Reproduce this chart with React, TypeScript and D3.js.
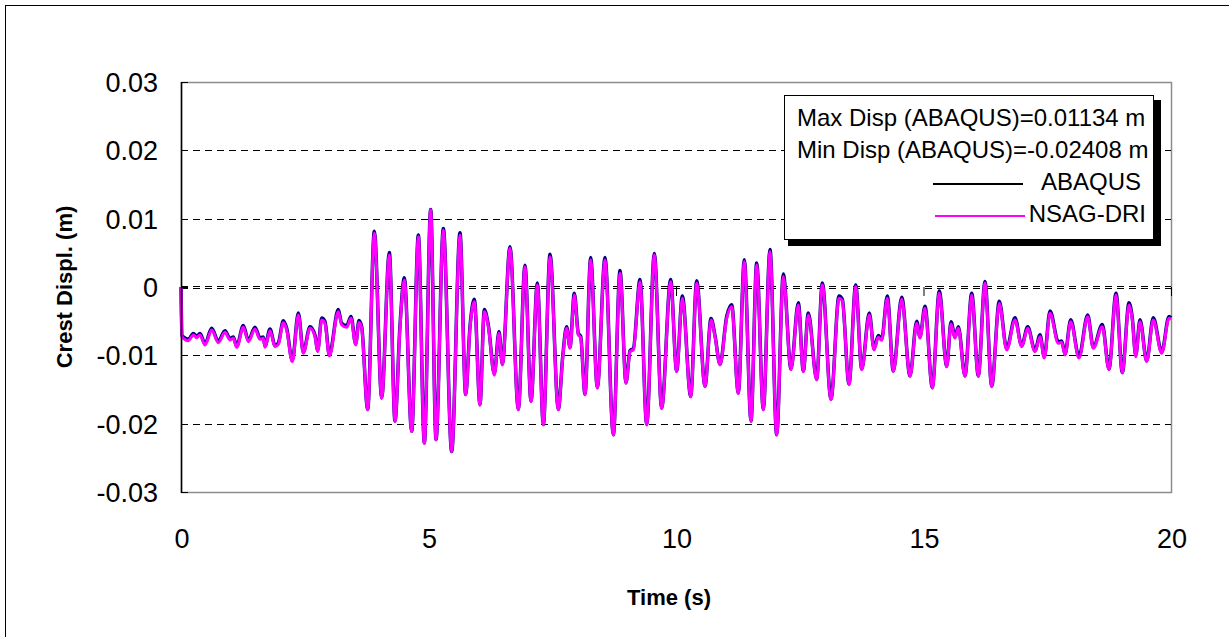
import React from "react";
import * as d3 from "d3";

// Time (s)
const times: number[] = [
  0.0, 0.02, 0.047, 0.148, 0.249, 0.316, 0.384, 0.485, 0.62, 0.754, 0.889, 0.99, 1.057, 1.125, 1.259, 1.36,
  1.495, 1.596, 1.663, 1.697, 1.798, 1.899, 1.966, 2.067, 2.135, 2.249, 2.37, 2.471, 2.606, 2.707, 2.761,
  2.842, 2.909, 2.997, 3.178, 3.246, 3.347, 3.434, 3.529, 3.596, 3.65, 3.771, 3.906, 4.054, 4.209, 4.323,
  4.424, 4.512, 4.66, 4.795, 4.916, 5.044, 5.152, 5.3, 5.468, 5.636, 5.751, 5.838, 5.926, 6.04, 6.128,
  6.209, 6.33, 6.424, 6.492, 6.646, 6.815, 6.949, 7.071, 7.199, 7.32, 7.455, 7.623, 7.711, 7.791, 7.859,
  7.946, 8.027, 8.074, 8.162, 8.276, 8.411, 8.566, 8.734, 8.869, 8.99, 9.071, 9.138, 9.273, 9.408, 9.562,
  9.71, 9.892, 10.013, 10.128, 10.297, 10.418, 10.586, 10.707, 10.788, 10.889, 11.024, 11.125, 11.259,
  11.38, 11.515, 11.63, 11.764, 11.899, 12.034, 12.168, 12.323, 12.471, 12.572, 12.673, 12.842, 12.956,
  13.131, 13.293, 13.36, 13.495, 13.63, 13.752, 13.905, 14.0, 14.087, 14.155, 14.269, 14.39, 14.56,
  14.727, 14.863, 14.929, 15.03, 15.178, 15.319, 15.469, 15.556, 15.636, 15.703, 15.838, 15.974, 16.107,
  16.242, 16.378, 16.531, 16.681, 16.848, 16.984, 17.105, 17.253, 17.354, 17.44, 17.556, 17.723, 17.792,
  17.859, 17.974, 18.141, 18.317, 18.43, 18.612, 18.747, 18.889, 19.016, 19.152, 19.219, 19.287, 19.374,
  19.509, 19.642, 19.812, 19.96, 20.0,
];

// NSAG-DRI crest displacement (m)
const nsagDri: number[] = [
  0.0, -0.0073, -0.00751, -0.00785, -0.00702, -0.00741, -0.00702, -0.00849, -0.00629, -0.00815, -0.00663,
  -0.00776, -0.0075, -0.00883, -0.0059, -0.008, -0.00615, -0.00766, -0.0075, -0.00883, -0.00639, -0.00873,
  -0.0084, -0.00522, -0.00629, -0.01093, -0.0041, -0.00971, -0.00605, -0.00727, -0.00946, -0.00483,
  -0.00532, -0.0101, -0.00361, -0.00556, -0.0059, -0.00459, -0.00849, -0.0052, -0.006, -0.018, 0.00786,
  -0.0163, 0.00468, -0.0197, -0.0059, 0.00102, -0.0212, 0.00737, -0.0229, 0.01127, -0.0224, 0.00834,
  -0.0241, 0.00761, -0.0158, -0.00605, -0.00215, -0.0173, -0.00361, -0.0058, -0.0129, -0.00678, -0.0114,
  0.00566, -0.018, 0.00298, -0.0168, 0.00029, -0.0202, 0.00444, -0.018, -0.0104, -0.00605, -0.00898,
  -0.00117, -0.00702, -0.0074, -0.0158, 0.00395, -0.0148, 0.00395, -0.0217, 0.002, -0.0141, -0.00946,
  -0.0092, 0.00078, -0.0202, 0.00468, -0.0178, 0.00078, -0.0124, -0.00166, -0.0161, 0.00054, -0.0146,
  -0.00483, -0.00727, -0.0114, -0.00459, -0.00288, -0.0156, 0.00371, -0.0197, 0.00322, -0.018, 0.00517,
  -0.0217, 0.00151, -0.0121, -0.00263, -0.0124, -0.0041, -0.0136, 0.00029, -0.0165, -0.00166, -0.002,
  -0.0143, 0.00005, -0.0121, -0.0041, -0.00922, -0.00737, -0.0078, -0.00166, -0.0124, -0.00181, -0.0131,
  -0.00532, -0.0075, -0.00312, -0.0148, -0.00093, -0.0117, -0.00541, -0.0075, -0.00605, -0.0131, -0.00117,
  -0.0131, 0.00054, -0.0146, -0.00239, -0.00922, -0.00483, -0.00873, -0.00605, -0.00946, -0.00727, -0.0104,
  -0.00385, -0.00824, -0.0081, -0.00995, -0.00507, -0.0104, -0.00434, -0.00898, -0.0058, -0.0121, -0.00117,
  -0.0126, -0.00263, -0.0048, -0.0102, -0.00507, -0.0109, -0.00483, -0.0097, -0.00459, -0.0047,
];

// ABAQUS crest displacement (m)
const abaqus: number[] = [
  0.0, -0.0071, -0.00728, -0.00765, -0.0068, -0.0072, -0.0068, -0.0083, -0.00605, -0.00795, -0.0064,
  -0.00755, -0.0073, -0.00865, -0.00565, -0.0078, -0.0059, -0.00745, -0.0073, -0.00865, -0.00615, -0.00855,
  -0.0082, -0.00495, -0.00605, -0.01075, -0.0038, -0.0095, -0.0058, -0.00705, -0.00925, -0.00455,
  -0.00505, -0.0099, -0.0033, -0.0053, -0.00565, -0.0043, -0.0083, -0.0049, -0.0058, -0.0179, 0.00815,
  -0.0162, 0.00505, -0.0196, -0.0056, 0.00135, -0.0211, 0.0076, -0.0228, 0.01134, -0.0223, 0.00855,
  -0.02408, 0.00795, -0.0157, -0.0058, -0.0018, -0.0172, -0.0033, -0.0056, -0.0127, -0.0065, -0.0113,
  0.0059, -0.0179, 0.0032, -0.0167, 0.0006, -0.0201, 0.0048, -0.0179, -0.0102, -0.0058, -0.0088,
  -0.0009, -0.0068, -0.0072, -0.0157, 0.0043, -0.0147, 0.0043, -0.0216, 0.0024, -0.014, -0.0093,
  -0.009, 0.0011, -0.0201, 0.0049, -0.0177, 0.0011, -0.0123, -0.0013, -0.016, 0.0009, -0.0145,
  -0.0046, -0.0071, -0.0113, -0.0043, -0.0026, -0.0155, 0.004, -0.0196, 0.0035, -0.0179, 0.0055,
  -0.0216, 0.0019, -0.012, -0.0023, -0.0123, -0.0038, -0.0135, 0.0006, -0.0164, -0.0013, -0.0018,
  -0.0142, 0.0003, -0.012, -0.0038, -0.009, -0.0071, -0.0076, -0.0013, -0.0123, -0.0015, -0.013,
  -0.005, -0.0073, -0.0028, -0.0147, -0.0006, -0.0116, -0.0051, -0.0073, -0.0058, -0.013, -0.0009,
  -0.013, 0.0008, -0.0145, -0.0021, -0.009, -0.0045, -0.0086, -0.0058, -0.0093, -0.007, -0.0102,
  -0.0035, -0.008, -0.0079, -0.0098, -0.0048, -0.0102, -0.0041, -0.0088, -0.0055, -0.012, -0.0009,
  -0.0125, -0.0023, -0.0046, -0.01, -0.0048, -0.0108, -0.0045, -0.0095, -0.0043, -0.0045,
];

const yTicks: number[] = [0.03, 0.02, 0.01, 0, -0.01, -0.02, -0.03];
const yTickLabels: string[] = ["0.03", "0.02", "0.01", "0", "-0.01", "-0.02", "-0.03"];
const xTicks: number[] = [0, 5, 10, 15, 20];
const legendStats: string[] = ["Max Disp (ABAQUS)=0.01134 m", "Min Disp (ABAQUS)=-0.02408 m"];
const seriesNames: string[] = ["ABAQUS", "NSAG-DRI"];

const W = 1229;
const H = 637;
const L = 181;
const R = 1171;
const T = 82;
const B = 492;
const FONT = "Arial, 'Liberation Sans', Helvetica, sans-serif";

export default function App() {
  const x = d3.scaleLinear().domain([0, 20]).range([L, R]);
  const y = d3.scaleLinear().domain([-0.03, 0.03]).range([B, T]);

  const line = d3
    .line<number>()
    .x((_, i) => x(times[i]))
    .y((d) => y(d))
    .curve(d3.curveMonotoneX);

  const gridVals = yTicks.filter((v) => v !== 0.03 && v !== -0.03 && v !== 0);
  const y0 = y(0);

  return (
    <svg
      width={W}
      height={H}
      style={{ position: "absolute", left: 0, top: 0, background: "#fff" }}
      fontFamily={FONT}
    >
      <rect x={0} y={0} width={W} height={H} fill="#fff" />
      {/* outer chart border */}
      <rect x={5.5} y={5.5} width={1400} height={800} fill="none" stroke="#000" strokeWidth={1} />

      {/* plot area border */}
      <rect x={L + 0.5} y={T + 0.5} width={R - L} height={B - T} fill="none" stroke="#8c8c8c" strokeWidth={1.5} />

      {/* gridlines */}
      {gridVals.map((v) => (
        <line
          key={"g" + v}
          x1={L}
          x2={R}
          y1={Math.round(y(v)) + 0.5}
          y2={Math.round(y(v)) + 0.5}
          stroke="#000"
          strokeWidth={1}
          strokeDasharray="7,5"
        />
      ))}
      {/* zero line (gridline + category axis) */}
      <line x1={L} x2={R} y1={y0 - 0.5} y2={y0 - 0.5} stroke="#000" strokeWidth={1} strokeDasharray="7,5" />
      <line x1={L} x2={R} y1={y0 + 1.5} y2={y0 + 1.5} stroke="#000" strokeWidth={1} strokeDasharray="7,5" />
      {xTicks.map((t) => (
        <line key={"xt" + t} x1={x(t) + 0.5} x2={x(t) + 0.5} y1={y0} y2={y0 + 9} stroke="#000" strokeWidth={1} />
      ))}

      {/* series */}
      <path d={line(abaqus) || ""} fill="none" stroke="#000080" strokeWidth={3.5} strokeLinejoin="round" />
      <path d={line(nsagDri) || ""} fill="none" stroke="#ff00ff" strokeWidth={3} strokeLinejoin="round" />

      {/* y axis */}
      <line x1={L + 0.5} x2={L + 0.5} y1={T} y2={B + 1} stroke="#000" strokeWidth={1.5} />
      {yTicks.map((v) => (
        <line
          key={"yt" + v}
          x1={L}
          x2={L + 7}
          y1={Math.round(y(v)) + 0.5}
          y2={Math.round(y(v)) + 0.5}
          stroke="#000"
          strokeWidth={1}
        />
      ))}
      {yTicks.map((v, i) => (
        <text key={"yl" + v} x={158} y={y(v) + 10} textAnchor="end" fontSize={27} fill="#000">
          {yTickLabels[i]}
        </text>
      ))}
      {xTicks.map((t) => (
        <text key={"xl" + t} x={x(t) + 1} y={548} textAnchor="middle" fontSize={27} fill="#000">
          {t}
        </text>
      ))}

      {/* axis titles */}
      <text
        x={0}
        y={0}
        transform={`translate(72, ${y0}) rotate(-90)`}
        textAnchor="middle"
        fontSize={22}
        fontWeight="bold"
        fill="#000"
      >
        Crest Displ. (m)
      </text>
      <text x={669} y={605} textAnchor="middle" fontSize={22} fontWeight="bold" fill="#000">
        Time (s)
      </text>

      {/* legend */}
      <rect x={1154} y={100} width={7} height={146} fill="#000" />
      <rect x={788} y={239} width={373} height={7} fill="#000" />
      <rect x={784.5} y={95.5} width={369} height={144} fill="#fff" stroke="#000" strokeWidth={1} />
      <text x={797} y={126} fontSize={24} fill="#000">
        {legendStats[0]}
      </text>
      <text x={797} y={158} fontSize={24} fill="#000">
        {legendStats[1]}
      </text>
      <line x1={933} x2={1023} y1={184} y2={184} stroke="#000" strokeWidth={2} />
      <text x={1141} y={190} textAnchor="end" fontSize={24} fill="#000">
        {seriesNames[0]}
      </text>
      <line x1={935} x2={1025} y1={216} y2={216} stroke="#ff00ff" strokeWidth={2} />
      <text x={1146} y={222} textAnchor="end" fontSize={24} fill="#000">
        {seriesNames[1]}
      </text>
    </svg>
  );
}
